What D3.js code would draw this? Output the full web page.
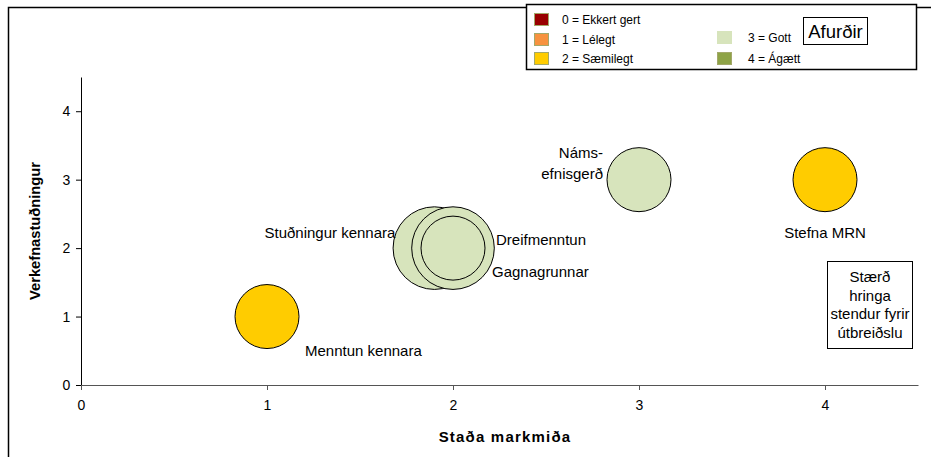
<!DOCTYPE html>
<html>
<head>
<meta charset="utf-8">
<script src="https://cdn.jsdelivr.net/npm/d3@7"></script>
<style>
  body { margin: 0; background: #fff; }
  svg { font-family: "Liberation Sans", Arial, sans-serif; }
</style>
</head>
<body>
<div id="chart"></div>
<script>
// bubbles: name, x (Staða markmiða), y (Verkefnastuðningur), size (útbreiðsla), grade (einkunn)
const names = ["Menntun kennara", "Stuðningur kennara", "Gagnagrunnar", "Dreifmenntun", "Námsefnisgerð", "Stefna MRN"];
const xVals = [1, 1.9, 2, 2, 3, 4];
const yVals = [1, 2, 2, 2, 3, 3];
const sizes = [3, 5, 5, 3, 3, 3];
const grades = [2, 3, 3, 3, 3, 2];

const gradeLabels = ["0 = Ekkert gert", "1 = Lélegt", "2 = Sæmilegt", "3 = Gott", "4 = Ágætt"];
const gradeColors = ["#990000", "#f7923f", "#ffcc00", "#d7e4bc", "#8ea346"];
const xTicks = [0, 1, 2, 3, 4];
const yTicks = [0, 1, 2, 3, 4];

const width = 931, height = 457;
const margin = { top: 77, right: 13, bottom: 72, left: 81 };

const svg = d3.select("#chart").append("svg")
    .attr("width", width)
    .attr("height", height);

// outer frame (top + left edges)
svg.append("path")
    .attr("d", `M8.5,${height} V7.5 H${width}`)
    .attr("fill", "none")
    .attr("stroke", "#000")
    .attr("stroke-width", 1.5);

const x = d3.scaleLinear().domain([0, 4.5]).range([margin.left, width - margin.right]);
const y = d3.scaleLinear().domain([0, 4.5]).range([height - margin.bottom, margin.top]);
const r = d3.scaleSqrt().domain([0, 3]).range([0, 32]);

const xAxis = svg.append("g")
    .attr("transform", `translate(0,${y(0)})`)
    .call(d3.axisBottom(x).tickValues(xTicks).tickSize(5).tickSizeOuter(0).tickFormat(d3.format("d")));
xAxis.select(".domain").attr("stroke", "#555");
xAxis.selectAll(".tick line").attr("stroke", "#555");
xAxis.selectAll("text").attr("font-size", 14).attr("fill", "#000").attr("dy", "1.2em");

const yAxis = svg.append("g")
    .attr("transform", `translate(${x(0)},0)`)
    .call(d3.axisLeft(y).tickValues(yTicks).tickSize(5).tickSizeOuter(0).tickFormat(d3.format("d")));
yAxis.selectAll("text").attr("font-size", 14).attr("fill", "#000").attr("dx", "-0.2em");
// x axis at 0 drawn over y axis foot
xAxis.raise();

svg.append("text")
    .attr("x", 505)
    .attr("y", 442)
    .attr("text-anchor", "middle")
    .attr("font-size", 15)
    .attr("font-weight", "bold")
    .attr("letter-spacing", 1.2)
    .text("Staða markmiða");

svg.append("text")
    .attr("transform", `translate(40,${(y.range()[0] + y.range()[1]) / 2}) rotate(-90)`)
    .attr("text-anchor", "middle")
    .attr("font-size", 14.7)
    .attr("font-weight", "bold")
    .text("Verkefnastuðningur");

const data = names.map((n, i) => ({ name: n, x: xVals[i], y: yVals[i], size: sizes[i], grade: grades[i] }));

svg.append("g").selectAll("circle")
    .data(data)
    .join("circle")
    .attr("cx", d => x(d.x))
    .attr("cy", d => y(d.y))
    .attr("r", d => r(d.size))
    .attr("fill", d => gradeColors[d.grade])
    .attr("stroke", "#000")
    .attr("stroke-width", 1);

// bubble labels
const labelPos = {
    "Menntun kennara": { dx: 38, dy: 39, anchor: "start" },
    "Stuðningur kennara": { dx: -39, dy: -10, anchor: "end" },
    "Dreifmenntun": { dx: 43, dy: -3, anchor: "start" },
    "Gagnagrunnar": { dx: 39, dy: 29, anchor: "start" },
    "Stefna MRN": { dx: 0, dy: 58, anchor: "middle" }
};
const labels = svg.append("g").attr("font-size", 15).attr("fill", "#000");
data.forEach(d => {
    if (d.name === "Námsefnisgerð") {
        const t = labels.append("text")
            .attr("text-anchor", "end")
            .attr("x", x(d.x) - 36)
            .attr("y", y(d.y) - 22);
        t.append("tspan").attr("x", x(d.x) - 36).text("Náms-");
        t.append("tspan").attr("x", x(d.x) - 36).attr("dy", 21).text("efnisgerð");
        return;
    }
    const p = labelPos[d.name];
    labels.append("text")
        .attr("x", x(d.x) + p.dx)
        .attr("y", y(d.y) + p.dy)
        .attr("text-anchor", p.anchor)
        .text(d.name);
});

// note box
const note = svg.append("g");
note.append("rect")
    .attr("x", 827.5).attr("y", 261.5)
    .attr("width", 85).attr("height", 87)
    .attr("fill", "#fff").attr("stroke", "#000");
const noteLines = ["Stærð", "hringa", "stendur fyrir", "útbreiðslu"];
note.selectAll("text")
    .data(noteLines)
    .join("text")
    .attr("x", 870)
    .attr("y", (d, i) => 282 + i * 18.5)
    .attr("text-anchor", "middle")
    .attr("font-size", 15)
    .text(d => d);

// legend
const legend = svg.append("g");
legend.append("rect")
    .attr("x", 526.5).attr("y", 4.5)
    .attr("width", 390).attr("height", 65)
    .attr("fill", "#fff").attr("stroke", "#000").attr("stroke-width", 1.5);
const legendPos = [
    { x: 534, y: 13, tx: 28 }, { x: 534, y: 33, tx: 28 }, { x: 534, y: 52, tx: 28 },
    { x: 717, y: 31, tx: 31 }, { x: 717, y: 52, tx: 31 }
];
const items = legend.selectAll(".item")
    .data(gradeLabels)
    .join("g")
    .attr("class", "item")
    .attr("transform", (d, i) => `translate(${legendPos[i].x},${legendPos[i].y})`);
items.append("rect")
    .attr("x", 0.5).attr("y", 0.5)
    .attr("width", 14).attr("height", 12)
    .attr("fill", (d, i) => gradeColors[i])
    .attr("stroke", (d, i) => i === 3 ? "#d7e4bc" : "#a3a86a");
items.append("text")
    .attr("x", (d, i) => legendPos[i].tx)
    .attr("y", 11)
    .attr("font-size", 12)
    .text(d => d);

legend.append("rect")
    .attr("x", 803.5).attr("y", 17.5)
    .attr("width", 64).attr("height", 27)
    .attr("fill", "#fff").attr("stroke", "#000");
legend.append("text")
    .attr("x", 835.5).attr("y", 38)
    .attr("text-anchor", "middle")
    .attr("font-size", 18.5)
    .text("Afurðir");
</script>
</body>
</html>
